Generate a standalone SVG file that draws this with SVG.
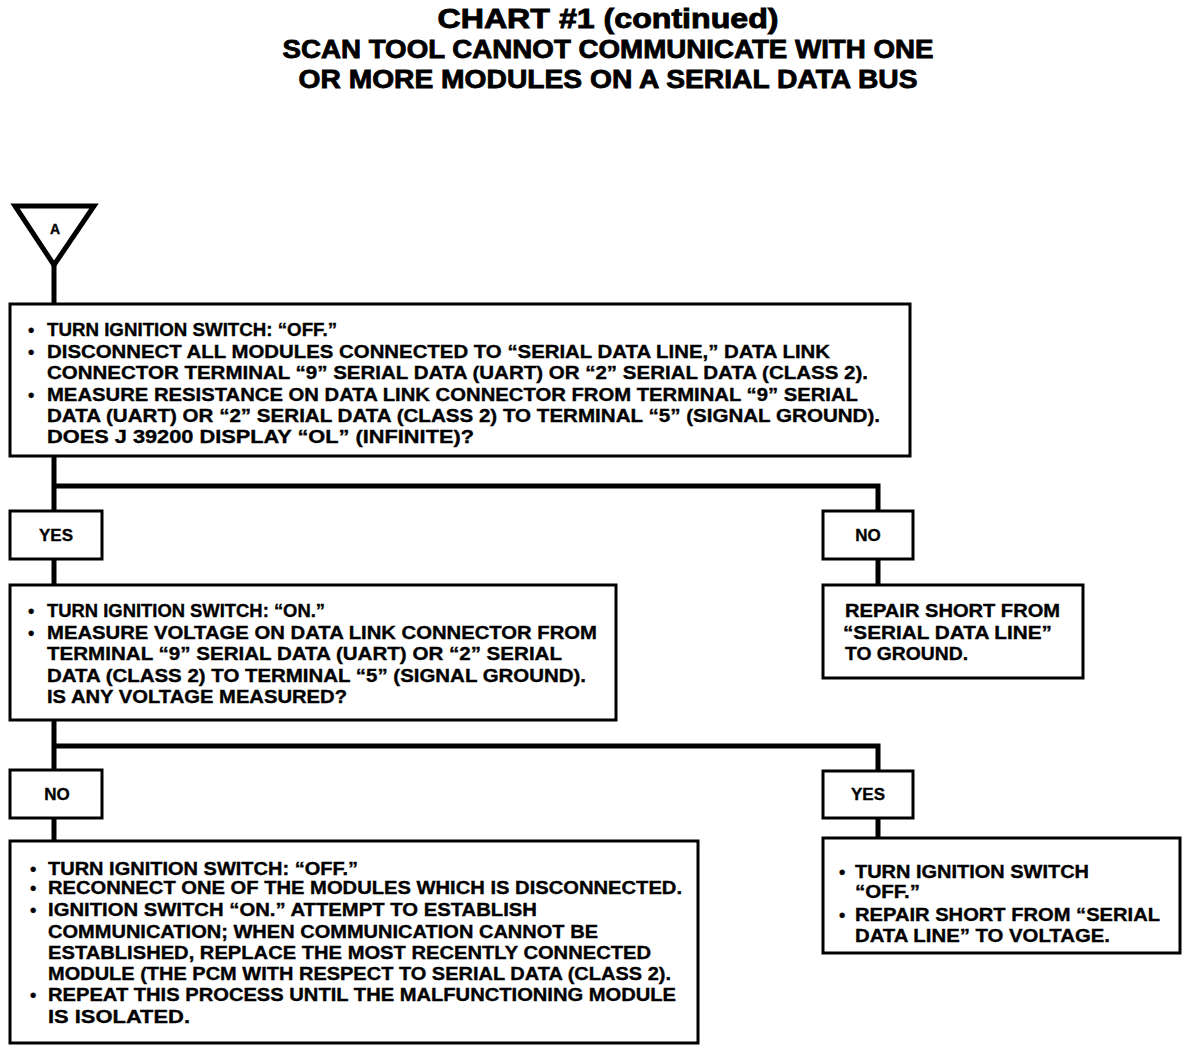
<svg xmlns="http://www.w3.org/2000/svg" width="1200" height="1054" viewBox="0 0 1200 1054">
<style>
.bg{fill:#fff}
.box{fill:#fff;stroke:#000;stroke-width:3}
.wire{fill:none;stroke:#000;stroke-width:5;stroke-linecap:square}
text{font-family:"Liberation Sans",Arial,sans-serif;font-weight:bold;fill:#000;stroke:#000;stroke-width:0.35}
.t{font-size:18px}
.title{font-size:28px;text-anchor:middle;stroke-width:0.9}
.sub{font-size:25px;text-anchor:middle;stroke-width:0.8}
.lbl{font-size:17px;text-anchor:middle}
</style>
<rect class="bg" x="0" y="0" width="1200" height="1054"/>
<g id="title">
<text class="title" x="608" y="28" textLength="341" lengthAdjust="spacingAndGlyphs">CHART #1 (continued)</text>
<text class="sub" x="608" y="58" textLength="651" lengthAdjust="spacingAndGlyphs">SCAN TOOL CANNOT COMMUNICATE WITH ONE</text>
<text class="sub" x="608" y="88" textLength="619" lengthAdjust="spacingAndGlyphs">OR MORE MODULES ON A SERIAL DATA BUS</text>
</g>
<g id="connectors">
<path class="wire" d="M54,266 V304"/>
<path class="wire" d="M54,456 V511 M54,486 H878 V511"/>
<path class="wire" d="M54,559 V585"/>
<path class="wire" d="M878,559 V585"/>
<path class="wire" d="M54,720 V770 M54,746 H878 V771"/>
<path class="wire" d="M54,818 V841"/>
<path class="wire" d="M878,818 V838"/>
</g>
<g id="startA">
<polygon points="15,206 94,206 54,265" fill="#fff" stroke="#000" stroke-width="5" stroke-linejoin="miter"/>
<text class="lbl" x="55" y="234" style="font-size:14px">A</text>
</g>
<g id="box1">
<rect class="box" x="10" y="304" width="900" height="152"/>
<text class="t" x="28" y="336">•</text>
<text class="t" x="47" y="336" textLength="290" lengthAdjust="spacingAndGlyphs">TURN IGNITION SWITCH: “OFF.”</text>
<text class="t" x="28" y="358">•</text>
<text class="t" x="47" y="358" textLength="783" lengthAdjust="spacingAndGlyphs">DISCONNECT ALL MODULES CONNECTED TO “SERIAL DATA LINE,” DATA LINK</text>
<text class="t" x="47" y="379" textLength="821" lengthAdjust="spacingAndGlyphs">CONNECTOR TERMINAL “9” SERIAL DATA (UART) OR “2” SERIAL DATA (CLASS 2).</text>
<text class="t" x="28" y="401">•</text>
<text class="t" x="47" y="401" textLength="811" lengthAdjust="spacingAndGlyphs">MEASURE RESISTANCE ON DATA LINK CONNECTOR FROM TERMINAL “9” SERIAL</text>
<text class="t" x="47" y="422" textLength="833" lengthAdjust="spacingAndGlyphs">DATA (UART) OR “2” SERIAL DATA (CLASS 2) TO TERMINAL “5” (SIGNAL GROUND).</text>
<text class="t" x="47" y="443" textLength="427" lengthAdjust="spacingAndGlyphs">DOES J 39200 DISPLAY “OL” (INFINITE)?</text>
</g>
<g id="yes1">
<rect class="box" x="10" y="511" width="92" height="48"/>
<text class="lbl" x="56" y="541">YES</text>
</g>
<g id="no1">
<rect class="box" x="823" y="511" width="90" height="48"/>
<text class="lbl" x="868" y="541">NO</text>
</g>
<g id="box2">
<rect class="box" x="10" y="585" width="606" height="135"/>
<text class="t" x="28" y="617">•</text>
<text class="t" x="47" y="617" textLength="278" lengthAdjust="spacingAndGlyphs">TURN IGNITION SWITCH: “ON.”</text>
<text class="t" x="28" y="639">•</text>
<text class="t" x="47" y="639" textLength="550" lengthAdjust="spacingAndGlyphs">MEASURE VOLTAGE ON DATA LINK CONNECTOR FROM</text>
<text class="t" x="47" y="660" textLength="515" lengthAdjust="spacingAndGlyphs">TERMINAL “9” SERIAL DATA (UART) OR “2” SERIAL</text>
<text class="t" x="47" y="682" textLength="539" lengthAdjust="spacingAndGlyphs">DATA (CLASS 2) TO TERMINAL “5” (SIGNAL GROUND).</text>
<text class="t" x="47" y="703" textLength="300" lengthAdjust="spacingAndGlyphs">IS ANY VOLTAGE MEASURED?</text>
</g>
<g id="repairGround">
<rect class="box" x="823" y="585" width="260" height="93"/>
<text class="t" x="845" y="617" textLength="215" lengthAdjust="spacingAndGlyphs">REPAIR SHORT FROM</text>
<text class="t" x="843" y="639" textLength="209" lengthAdjust="spacingAndGlyphs">“SERIAL DATA LINE”</text>
<text class="t" x="845" y="660" textLength="123" lengthAdjust="spacingAndGlyphs">TO GROUND.</text>
</g>
<g id="no2">
<rect class="box" x="10" y="770" width="92" height="48"/>
<text class="lbl" x="57" y="800">NO</text>
</g>
<g id="yes2">
<rect class="box" x="823" y="771" width="90" height="47"/>
<text class="lbl" x="868" y="800">YES</text>
</g>
<g id="box3">
<rect class="box" x="10" y="841" width="688" height="202"/>
<text class="t" x="30" y="875">•</text>
<text class="t" x="48" y="875" textLength="310" lengthAdjust="spacingAndGlyphs">TURN IGNITION SWITCH: “OFF.”</text>
<text class="t" x="30" y="894">•</text>
<text class="t" x="48" y="894" textLength="634" lengthAdjust="spacingAndGlyphs">RECONNECT ONE OF THE MODULES WHICH IS DISCONNECTED.</text>
<text class="t" x="30" y="916">•</text>
<text class="t" x="48" y="916" textLength="489" lengthAdjust="spacingAndGlyphs">IGNITION SWITCH “ON.” ATTEMPT TO ESTABLISH</text>
<text class="t" x="48" y="938" textLength="550" lengthAdjust="spacingAndGlyphs">COMMUNICATION; WHEN COMMUNICATION CANNOT BE</text>
<text class="t" x="48" y="959" textLength="603" lengthAdjust="spacingAndGlyphs">ESTABLISHED, REPLACE THE MOST RECENTLY CONNECTED</text>
<text class="t" x="48" y="980" textLength="623" lengthAdjust="spacingAndGlyphs">MODULE (THE PCM WITH RESPECT TO SERIAL DATA (CLASS 2).</text>
<text class="t" x="30" y="1001">•</text>
<text class="t" x="48" y="1001" textLength="628" lengthAdjust="spacingAndGlyphs">REPEAT THIS PROCESS UNTIL THE MALFUNCTIONING MODULE</text>
<text class="t" x="48" y="1023" textLength="142" lengthAdjust="spacingAndGlyphs">IS ISOLATED.</text>
</g>
<g id="repairVoltage">
<rect class="box" x="823" y="838" width="357" height="115"/>
<text class="t" x="839" y="878">•</text>
<text class="t" x="855" y="878" textLength="234" lengthAdjust="spacingAndGlyphs">TURN IGNITION SWITCH</text>
<text class="t" x="855" y="898" textLength="65" lengthAdjust="spacingAndGlyphs">“OFF.”</text>
<text class="t" x="839" y="921">•</text>
<text class="t" x="855" y="921" textLength="305" lengthAdjust="spacingAndGlyphs">REPAIR SHORT FROM “SERIAL</text>
<text class="t" x="855" y="942" textLength="255" lengthAdjust="spacingAndGlyphs">DATA LINE” TO VOLTAGE.</text>
</g>
</svg>
